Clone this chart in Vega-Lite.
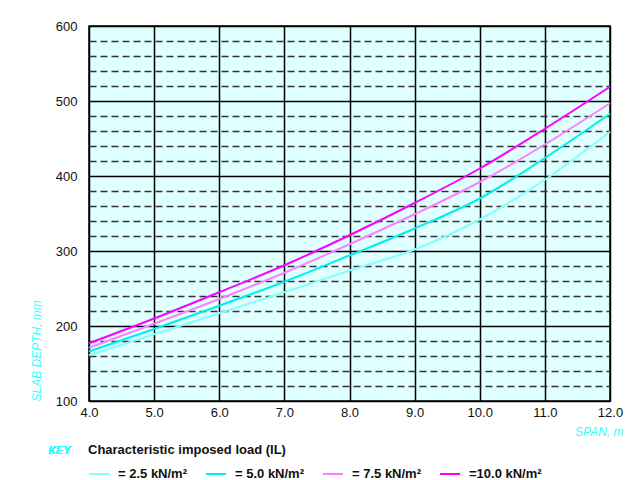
{
  "$schema": "https://vega.github.io/schema/vega-lite/v6.json",
  "width": 521,
  "height": 375,
  "autosize": {"type": "none"},
  "padding": {"left": 89, "top": 26, "right": 17, "bottom": 79},
  "background": "white",
  "config": {
    "view": {"fill": "#e0ffff", "stroke": "black", "strokeWidth": 1.5},
    "font": "Liberation Sans"
  },
  "data": {
    "values": [
      {"span": 4, "depth": 161, "load": "2.5"},
      {"span": 5, "depth": 189, "load": "2.5"},
      {"span": 6, "depth": 217, "load": "2.5"},
      {"span": 7, "depth": 245, "load": "2.5"},
      {"span": 8, "depth": 274, "load": "2.5"},
      {"span": 9, "depth": 302, "load": "2.5"},
      {"span": 10, "depth": 342, "load": "2.5"},
      {"span": 11, "depth": 395, "load": "2.5"},
      {"span": 12, "depth": 459, "load": "2.5"},
      {"span": 4, "depth": 166, "load": "5.0"},
      {"span": 5, "depth": 196, "load": "5.0"},
      {"span": 6, "depth": 227, "load": "5.0"},
      {"span": 7, "depth": 259, "load": "5.0"},
      {"span": 8, "depth": 294, "load": "5.0"},
      {"span": 9, "depth": 330, "load": "5.0"},
      {"span": 10, "depth": 370, "load": "5.0"},
      {"span": 11, "depth": 424, "load": "5.0"},
      {"span": 12, "depth": 483, "load": "5.0"},
      {"span": 4, "depth": 171, "load": "7.5"},
      {"span": 5, "depth": 203, "load": "7.5"},
      {"span": 6, "depth": 236, "load": "7.5"},
      {"span": 7, "depth": 271, "load": "7.5"},
      {"span": 8, "depth": 309, "load": "7.5"},
      {"span": 9, "depth": 349, "load": "7.5"},
      {"span": 10, "depth": 392, "load": "7.5"},
      {"span": 11, "depth": 442, "load": "7.5"},
      {"span": 12, "depth": 497, "load": "7.5"},
      {"span": 4, "depth": 177, "load": "10.0"},
      {"span": 5, "depth": 210, "load": "10.0"},
      {"span": 6, "depth": 245, "load": "10.0"},
      {"span": 7, "depth": 281, "load": "10.0"},
      {"span": 8, "depth": 321, "load": "10.0"},
      {"span": 9, "depth": 364, "load": "10.0"},
      {"span": 10, "depth": 410, "load": "10.0"},
      {"span": 11, "depth": 463, "load": "10.0"},
      {"span": 12, "depth": 519, "load": "10.0"}
    ]
  },
  "layer": [
    {
      "mark": {"type": "line", "strokeWidth": 2, "interpolate": "monotone"},
      "encoding": {
        "x": {
          "field": "span",
          "type": "quantitative",
          "scale": {"domain": [4, 12], "nice": false, "zero": false},
          "axis": {
            "values": [4, 5, 6, 7, 8, 9, 10, 11, 12],
            "tickCount": 50,
            "format": ".1f",
            "title": "SPAN, m",
            "grid": true,
            "gridColor": "black",
            "gridWidth": 1.5,
            "gridOpacity": 1,
            "ticks": false,
            "domain": false,
            "labelFontSize": 13,
            "labelColor": "#111111",
            "labelPadding": 5,
            "labelFlush": false,
            "labelOverlap": false,
            "titleColor": "#33ffff",
            "titleFontStyle": "italic",
            "titleFontWeight": "normal",
            "titleFontSize": 12,
            "titleX": 534,
            "titleY": 30,
            "titleAlign": "right",
            "titleBaseline": "middle"
          }
        },
        "y": {
          "field": "depth",
          "type": "quantitative",
          "scale": {"domain": [100, 600], "nice": false, "zero": false},
          "axis": {
            "values": [100, 120, 140, 160, 180, 200, 220, 240, 260, 280, 300, 320, 340, 360, 380, 400, 420, 440, 460, 480, 500, 520, 540, 560, 580, 600],
            "tickCount": 100,
            "labelExpr": "datum.value % 100 === 0 ? datum.label : ''",
            "grid": true,
            "gridColor": {"condition": {"test": "datum.value % 100 === 0", "value": "black"}, "value": "#333333"},
            "gridDash": {"condition": {"test": "datum.value % 100 === 0", "value": []}, "value": [7, 4]},
            "gridWidth": 1.5,
            "gridOpacity": 1,
            "ticks": false,
            "domain": false,
            "labelFontSize": 13,
            "labelColor": "#111111",
            "labelPadding": 12,
            "labelOverlap": false,
            "title": "SLAB DEPTH, mm",
            "titleColor": "#33ffff",
            "titleFontStyle": "italic",
            "titleFontWeight": "normal",
            "titleFontSize": 12,
            "titleAngle": 270,
            "titleX": -53,
            "titleY": 375,
            "titleAlign": "left",
            "titleBaseline": "middle"
          }
        },
        "color": {
          "field": "load",
          "type": "nominal",
          "scale": {"domain": ["2.5", "5.0", "7.5", "10.0"], "range": ["#80ffff", "#00eeee", "#ff80ff", "#ff00ff"]},
          "legend": {
            "orient": "none",
            "legendX": -1,
            "legendY": 418,
            "direction": "horizontal",
            "columns": 4,
            "padding": 0,
            "title": "Characteristic imposed load (IL)",
            "titleLimit": 500,
            "titleFontSize": 13,
            "titleFontWeight": "bold",
            "titleColor": "#111111",
            "titlePadding": 6,
            "labelFontSize": 13,
            "labelFontWeight": "bold",
            "labelColor": "#111111",
            "symbolType": "stroke",
            "symbolSize": 400,
            "symbolStrokeWidth": 2,
            "labelOffset": 8,
            "columnPadding": 14,
            "labelExpr": "datum.label == '10.0' ? '=10.0 kN/m²' : '= ' + datum.label + ' kN/m²'"
          }
        }
      }
    },
    {
      "mark": {"type": "text", "text": "KEY", "align": "left", "baseline": "middle", "fontStyle": "italic", "fontSize": 11, "color": "#33ffff"},
      "encoding": {
        "x": {"datum": 3.38, "type": "quantitative"},
        "y": {"datum": 33, "type": "quantitative"}
      }
    }
  ]
}
